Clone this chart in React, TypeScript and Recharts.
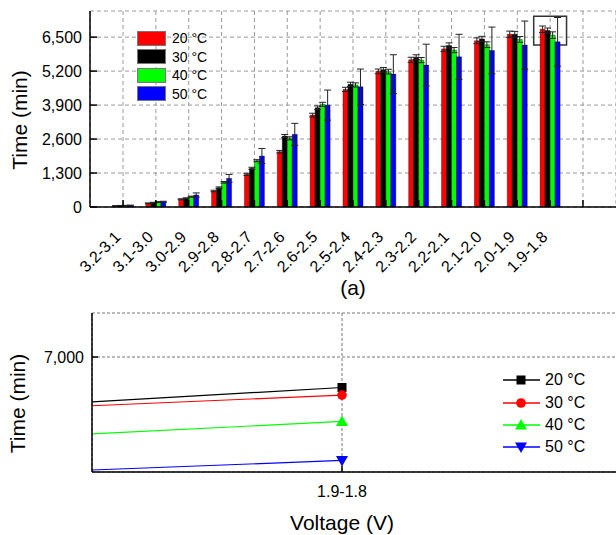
import React from "react";
import {
  BarChart, Bar, XAxis, YAxis, CartesianGrid, ErrorBar, Legend, ReferenceArea,
  LineChart, Line,
} from "recharts";

// discharge voltage steps (V)
const ranges = [
  "3.2-3.1", "3.1-3.0", "3.0-2.9", "2.9-2.8", "2.8-2.7", "2.7-2.6", "2.6-2.5",
  "2.5-2.4", "2.4-2.3", "2.3-2.2", "2.2-2.1", "2.1-2.0", "2.0-1.9", "1.9-1.8",
];
const temps = ["20 °C", "30 °C", "40 °C", "50 °C"];

// time in minutes
const t20 = [40, 140, 294, 612, 1250, 2115, 3518, 4500, 5190, 5630, 6050, 6360, 6610, 6800];
const t30 = [50, 165, 332, 739, 1480, 2715, 3797, 4695, 5250, 5735, 6180, 6430, 6610, 6750];
const t40 = [55, 190, 395, 944, 1771, 2627, 3927, 4670, 5180, 5621, 6004, 6210, 6413, 6577];
const t50 = [60, 200, 459, 1097, 1950, 2780, 3900, 4600, 5086, 5430, 5748, 5990, 6195, 6321];

// error bars (±min)
const e20 = [10, 15, 20, 30, 40, 50, 70, 80, 90, 100, 100, 110, 120, 125];
const e30 = [10, 15, 20, 30, 40, 60, 70, 80, 90, 90, 100, 100, 110, 100];
const e40 = [10, 15, 20, 30, 40, 60, 80, 80, 90, 100, 100, 110, 110, 125];
const e50 = [10, 20, 80, 150, 290, 420, 575, 680, 740, 800, 860, 895, 920, 930];

const yTicks = [0, 1300, 2600, 3900, 5200, 6500];
const zoomTicks = [7000];

const keys = ["t20", "t30", "t40", "t50"];
const errKeys = ["e20", "e30", "e40", "e50"];
const barColors = ["#ff0000", "#000000", "#00ff00", "#0000ff"];
// the zoomed panel swaps the first two colours
const lineColors = ["#000000", "#ff0000", "#00ff00", "#0000ff"];
const markers = ["square", "circle", "up", "down"];

const barData = [
  ...ranges.map((r, i) => ({
    range: r,
    t20: t20[i], t30: t30[i], t40: t40[i], t50: t50[i],
    e20: e20[i], e30: e30[i], e40: e40[i], e50: e50[i],
  })),
  { range: " " },
];

// last two steps for the zoom panel (x = step index)
const zoomData = [12, 13].map((i) => ({
  pos: i, t20: t20[i], t30: t30[i], t40: t40[i], t50: t50[i],
}));

const FONT = "'Liberation Sans', Arial, sans-serif";
const fmt = (v: number) => v.toLocaleString("en-US");

const RotTick = (props: any) => {
  const { x, y, payload } = props;
  const tx = x - 1.5;
  return (
    <text x={tx} y={y} transform={`rotate(-45 ${tx} ${y})`} textAnchor="end" fontSize={16} fill="#000">
      {payload.value}
    </text>
  );
};

const timeLabel = (xPos: number) => (props: any) => {
  const vb = props.viewBox;
  const cy = vb.y + vb.height / 2 + 11;
  return (
    <text x={xPos} y={cy} transform={`rotate(-90 ${xPos} ${cy})`} textAnchor="middle" fontSize={21} fill="#000">
      Time (min)
    </text>
  );
};

const BarLegend = () => (
  <div style={{ fontFamily: FONT }}>
    {temps.map((t, i) => (
      <div key={t} style={{ display: "flex", alignItems: "center", height: 18.5 }}>
        <span style={{ display: "inline-block", width: 27, height: 13, background: barColors[i], border: "1px solid #777" }} />
        <span style={{ marginLeft: 6, fontSize: 14, color: "#000" }}>{t}</span>
      </div>
    ))}
  </div>
);

const Marker = ({ kind, color, cx, cy }: any) => {
  if (cx == null || cy == null) return null;
  if (kind === "square") return <rect x={cx - 4.5} y={cy - 4.5} width={9} height={9} fill={color} />;
  if (kind === "circle") return <circle cx={cx} cy={cy} r={4.8} fill={color} />;
  if (kind === "up") return <polygon points={`${cx},${cy - 6} ${cx + 6},${cy + 4.5} ${cx - 6},${cy + 4.5}`} fill={color} />;
  return <polygon points={`${cx},${cy + 6} ${cx + 6},${cy - 4.5} ${cx - 6},${cy - 4.5}`} fill={color} />;
};

const LineLegend = () => (
  <div style={{ fontFamily: FONT }}>
    {temps.map((t, i) => (
      <div key={t} style={{ display: "flex", alignItems: "center", height: 22.4 }}>
        <svg width={38} height={22}>
          <line x1={0} y1={11} x2={37} y2={11} stroke={lineColors[i]} strokeWidth={1.3} />
          <Marker kind={markers[i]} color={lineColors[i]} cx={18} cy={11} />
        </svg>
        <span style={{ marginLeft: 4, fontSize: 16, color: "#000" }}>{t}</span>
      </div>
    ))}
  </div>
);

export default function App() {
  return (
    <div style={{ position: "absolute", left: 0, top: 0, width: 616, height: 535, overflow: "hidden", background: "#fff", fontFamily: FONT }}>
      <div style={{ position: "absolute", left: 0, top: 0 }}>
        <BarChart
          width={616}
          height={300}
          data={barData}
          margin={{ top: 11, right: 0, left: 0, bottom: 23 }}
          barCategoryGap="19.5%"
          barGap={0}
        >
          <CartesianGrid strokeDasharray="4 3" stroke="#9a9a9a" />
          <XAxis
            dataKey="range"
            interval={0}
            padding={{ left: 16.6, right: 16.6 }}
            height={70}
            tickSize={-7}
            tickMargin={38}
            tick={<RotTick />}
            stroke="#000"
            strokeWidth={1.5}
            label={{
              content: (p: any) => (
                <text x={p.viewBox.x + p.viewBox.width / 2} y={295} textAnchor="middle" fontSize={21} fill="#000">(a)</text>
              ),
            }}
          />
          <XAxis xAxisId="top" dataKey="range" orientation="top" height={0} tick={false} stroke="#222" strokeWidth={1.5} />
          <YAxis
            width={90}
            domain={[0, 7500]}
            ticks={yTicks}
            tickFormatter={fmt}
            tickSize={-7}
            tickMargin={15}
            tick={{ fill: "#000", fontSize: 16 }}
            stroke="#000"
            strokeWidth={1.5}
            label={{ content: timeLabel(27) }}
          />
          {keys.map((k, i) => (
            <Bar key={k} dataKey={k} fill={barColors[i]} stroke="rgba(0,0,0,0.45)" strokeWidth={0.8} isAnimationActive={false}>
              <ErrorBar dataKey={errKeys[i]} width={3.5} stroke="#222" strokeWidth={1} />
            </Bar>
          ))}
          <ReferenceArea x1="1.9-1.8" x2="1.9-1.8" y1={6200} y2={7300} fill="none" stroke="#333" strokeWidth={1.5} ifOverflow="visible" />
          <Legend
            layout="vertical"
            align="center"
            verticalAlign="middle"
            content={<BarLegend />}
            wrapperStyle={{ left: 137, top: 29, width: "auto", height: "auto" }}
          />
        </BarChart>
      </div>

      <div style={{ position: "absolute", left: 0, top: 300 }}>
        <LineChart width={617} height={235} data={zoomData} margin={{ top: 13, right: 0, left: 0, bottom: 23 }}>
          <CartesianGrid strokeDasharray="3 2" stroke="#777" />
          <XAxis
            dataKey="pos"
            type="number"
            domain={[12.5, 13.55]}
            allowDataOverflow
            ticks={[13]}
            tickFormatter={(v: number) => ranges[v] ?? ""}
            height={40}
            tickSize={-6}
            tickMargin={20}
            tick={{ fill: "#000", fontSize: 16 }}
            stroke="#000"
            strokeWidth={1.5}
            label={{
              content: (p: any) => (
                <text x={p.viewBox.x + 250} y={230} textAnchor="middle" fontSize={21} fill="#000">Voltage (V)</text>
              ),
            }}
          />
          <XAxis xAxisId="top" type="number" domain={[12.5, 13.55]} orientation="top" height={0} tick={false} stroke="#666" strokeWidth={2} />
          <YAxis
            width={92}
            domain={[6245, 7289]}
            allowDataOverflow
            ticks={zoomTicks}
            tickFormatter={fmt}
            tickSize={-6}
            tickMargin={14}
            tick={{ fill: "#000", fontSize: 16 }}
            stroke="#000"
            strokeWidth={1.5}
            label={{ content: timeLabel(25) }}
          />
          {keys.map((k, i) => (
            <Line
              key={k}
              type="linear"
              dataKey={k}
              stroke={lineColors[i]}
              strokeWidth={1.2}
              isAnimationActive={false}
              dot={(p: any) => <Marker key={`${k}-${p.index}`} kind={markers[i]} color={lineColors[i]} cx={p.cx} cy={p.cy} />}
            />
          ))}
          <Legend
            layout="vertical"
            align="center"
            verticalAlign="middle"
            content={<LineLegend />}
            wrapperStyle={{ left: 503, top: 69, width: "auto", height: "auto" }}
          />
        </LineChart>
      </div>
    </div>
  );
}
